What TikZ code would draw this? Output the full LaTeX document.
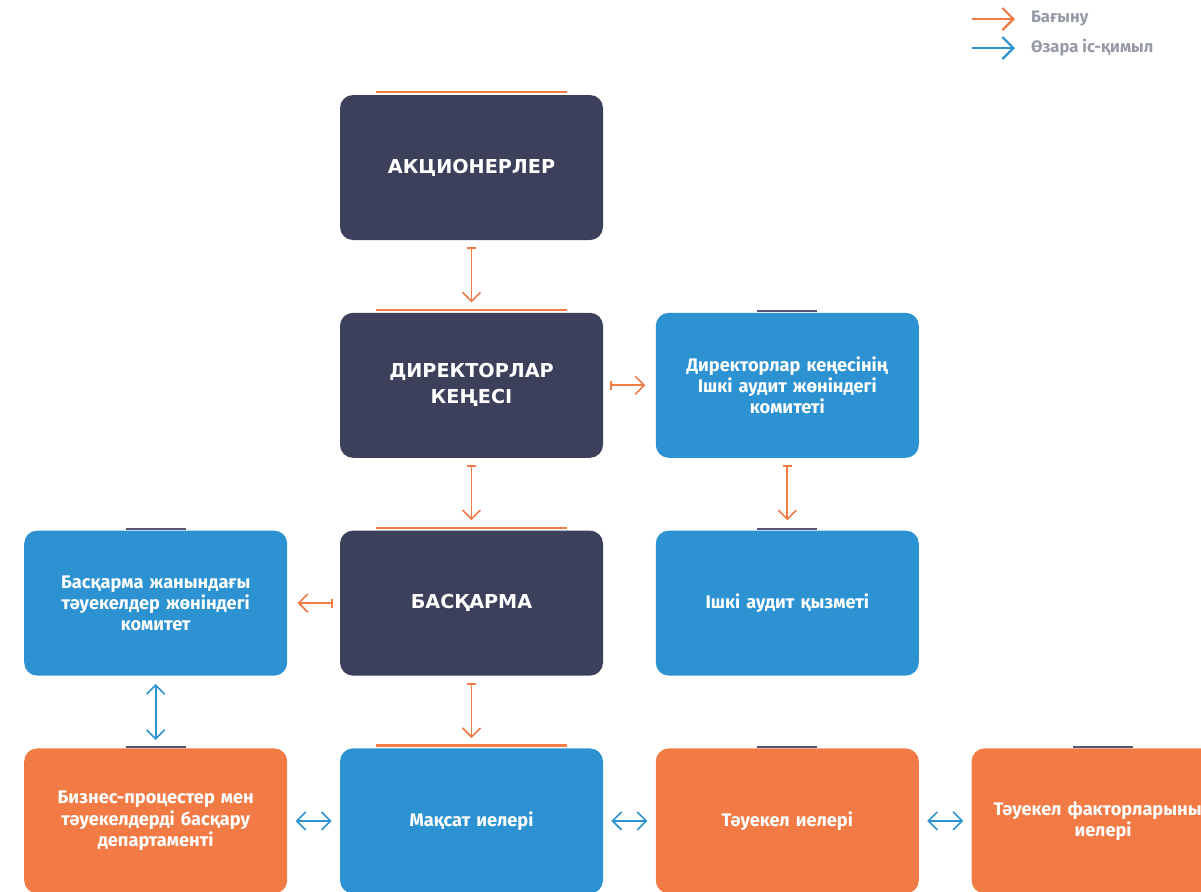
\documentclass[tikz,border=0pt]{standalone}
\usepackage{fontspec}
\setmainfont{Fira Sans}
\newfontfamily\headfont{DejaVu Sans}
\usepackage{xcolor}
\definecolor{navybox}{RGB}{61,64,91}
\definecolor{bluebox}{RGB}{44,146,210}
\definecolor{riskorg}{RGB}{242,123,69}
\definecolor{barnavy}{RGB}{84,88,116}
\definecolor{legendgray}{RGB}{150,154,166}
\usetikzlibrary{arrows.meta, positioning}
\tikzset{
  headbox/.style={
    rectangle, fill=navybox, text=white,
    minimum width=131.5pt, minimum height=72.5pt,
    align=center, rounded corners=6.5pt,
    font=\headfont\bfseries\fontsize{9.6}{13}\selectfont},
  unitbox/.style={
    rectangle, fill=bluebox, text=white, text width=124pt,
    minimum width=131.5pt, minimum height=72.5pt,
    align=center, rounded corners=6.5pt,
    font=\bfseries\fontsize{9.1}{10.6}\selectfont},
  ownerbox/.style={unitbox, fill=riskorg},
  legtext/.style={anchor=west, text=legendgray,
    font=\bfseries\fontsize{8.3}{10}\selectfont},
  obar/.style={riskorg, line width=1.2pt},
  nbar/.style={barnavy, line width=1pt},
  arr/.style={{Bar[width=4.5pt,line width=0.8pt]}-{Straight Barb[length=4.5pt,width=9pt,line width=0.8pt]},
    line width=0.85pt, riskorg, shorten <=3.5pt, shorten >=5pt},
  arrboth/.style={{Straight Barb[length=4.5pt,width=9pt,line width=0.8pt]}-{Straight Barb[length=4.5pt,width=9pt,line width=0.8pt]},
    line width=0.85pt, bluebox, shorten <=4pt, shorten >=4pt},
  legarr/.style={-{Straight Barb[length=5.5pt,width=11pt,line width=1.1pt]}, line width=1.2pt},
}

\begin{document}
\begin{tikzpicture}[x=0.5pt, y=-0.5pt, node distance=36pt and 26pt]
  \useasboundingbox (0,0) rectangle (1201,891);

  % central column
  \node[headbox] (sh) at (471.5,167.5) {АКЦИОНЕРЛЕР};
  \node[headbox, below=of sh] (bd) {ДИРЕКТОРЛАР\\КЕҢЕСІ};
  \node[headbox, below=of bd] (mb) {БАСҚАРМА};
  \node[unitbox, below=of mb] (go) {Мақсат иелері};

  % right side
  \node[unitbox, right=of bd] (ac)
    {Директорлар кеңесінің\\Ішкі аудит жөніндегі\\комитеті};
  \node[unitbox, right=of mb] (ia) {Ішкі аудит қызметі};
  \node[ownerbox, right=of go] (ro) {Тәуекел иелері};
  \node[ownerbox, right=of ro] (rf) {Тәуекел факторларының\\иелері};

  % left side
  \node[unitbox, left=of mb] (rc)
    {Басқарма жанындағы\\тәуекелдер жөніндегі\\комитет};
  \node[ownerbox, left=of go] (bp)
    {Бизнес-процестер мен\\тәуекелдерді басқару\\департаменті};

  % bars on top of the boxes
  \foreach \n in {sh,bd,mb,go}
    \draw[obar] ([xshift=-47.75pt,yshift=1.2pt]\n.north) -- ([xshift=47.75pt,yshift=1.2pt]\n.north);
  \foreach \n in {ac,ia,rc,bp,ro,rf}
    \draw[nbar] ([xshift=-15pt,yshift=0.6pt]\n.north) -- ([xshift=15pt,yshift=0.6pt]\n.north);

  % subordination
  \draw[arr] (sh) -- (bd);
  \draw[arr] (bd) -- (mb);
  \draw[arr] (mb) -- (go);
  \draw[arr] (bd) -- (ac);
  \draw[arr] (ac) -- (ia);
  \draw[arr] (mb) -- (rc);

  % interaction
  \draw[arrboth] (rc) -- (bp);
  \draw[arrboth] (bp) -- (go);
  \draw[arrboth] (go) -- (ro);
  \draw[arrboth] (ro) -- (rf);

  % legend
  \node[legtext] (lg1) at (1024,19) {Бағыну};
  \node[legtext] (lg2) at (1024,48) {Өзара іс-қимыл};
  \coordinate (l1a) at (972,19);
  \coordinate (l1b) at (1015,19);
  \coordinate (l2a) at (972,48);
  \coordinate (l2b) at (1015,48);
  \draw[legarr, riskorg] (l1a) -- (l1b);
  \draw[legarr, bluebox] (l2a) -- (l2b);
\end{tikzpicture}
\end{document}
